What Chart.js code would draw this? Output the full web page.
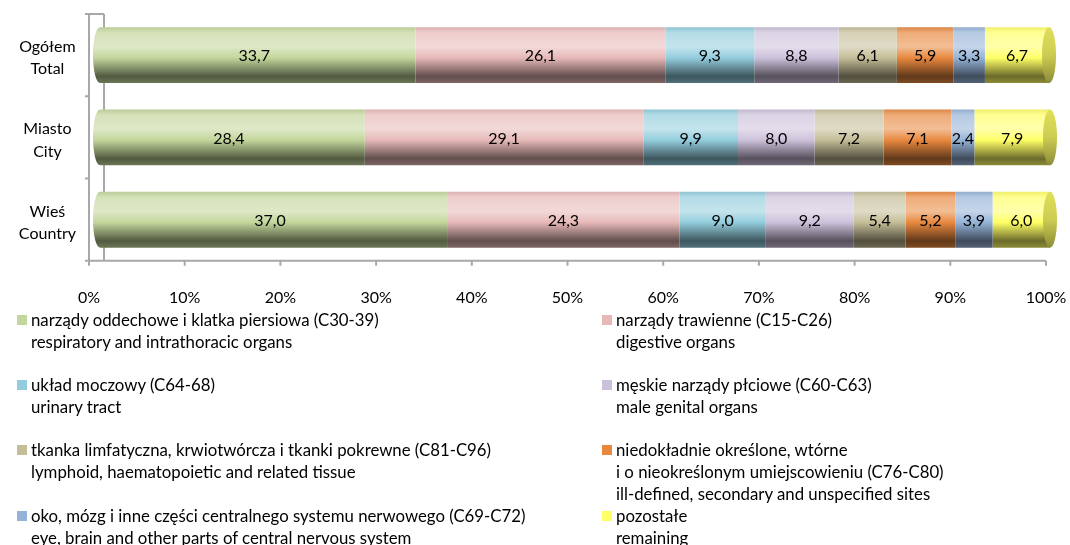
<!DOCTYPE html>
<html lang="pl">
<head>
<meta charset="utf-8">
<title>Zgony na nowotwory złośliwe według umiejscowienia</title>
<script src="https://cdn.jsdelivr.net/npm/chart.js@4.4.1/dist/chart.umd.min.js"></script>
<style>
    html, body { margin: 0; padding: 0; background: #fff; }
    #wrap { position: relative; width: 1070px; height: 545px; font-family: Lato, 'Noto Sans', sans-serif; }
    #chart { position: absolute; left: 0; top: 0; }
    .item { position: absolute; font-size: 16.8px; line-height: 22px; color: #000; padding-left: 14px; white-space: nowrap; }
    .item i { position: absolute; left: 0; top: 6px; width: 10px; height: 10px; }
</style>
</head>
<body>
<div id="wrap">
    <canvas id="chart" width="1070" height="545"></canvas>
    <div id="legend"></div>
</div>
<script>
// ── Data (% of deaths by site) ──
const categories = [['Ogółem', 'Total'], ['Miasto', 'City'], ['Wieś', 'Country']];
const respiratory = [33.7, 28.4, 37.0];
const digestive   = [26.1, 29.1, 24.3];
const urinary     = [9.3, 9.9, 9.0];
const genital     = [8.8, 8.0, 9.2];
const lymphoid    = [6.1, 7.2, 5.4];
const illDefined  = [5.9, 7.1, 5.2];
const nervous     = [3.3, 2.4, 3.9];
const remaining   = [6.7, 7.9, 6.0];

const seriesLabels = [
    ['narządy oddechowe i klatka piersiowa (C30-39)', 'respiratory and intrathoracic organs'],
    ['narządy trawienne (C15-C26)', 'digestive organs'],
    ['układ moczowy (C64-68)', 'urinary tract'],
    ['męskie narządy płciowe (C60-C63)', 'male genital organs'],
    ['tkanka limfatyczna, krwiotwórcza i tkanki pokrewne (C81-C96)', 'lymphoid, haematopoietic and related tissue'],
    ['niedokładnie określone, wtórne', 'i o nieokreślonym umiejscowieniu (C76-C80)', 'ill-defined, secondary and unspecified sites'],
    ['oko, mózg i inne części centralnego systemu nerwowego (C69-C72)', 'eye, brain and other parts of central nervous system'],
    ['pozostałe', 'remaining']
];
const seriesValues = [respiratory, digestive, urinary, genital, lymphoid, illDefined, nervous, remaining];
const seriesColors = ['#c3d69b', '#e6b9b8', '#93cddd', '#ccc1da', '#c4bd97', '#e8883f', '#95b3d7', '#ffff66'];

const BAR_PCT = 0.68;
const FONT = 'Lato, "Noto Sans", sans-serif';

// ── Colour helpers ──
function mix(hex, target, t) {
    const a = parseInt(hex.slice(1), 16);
    const r = (a >> 16) & 255, g = (a >> 8) & 255, b = a & 255;
    const m = (c) => Math.round(c + (target - c) * t);
    return 'rgb(' + m(r) + ',' + m(g) + ',' + m(b) + ')';
}

function barHalf(chart) {
    const area = chart.chartArea;
    return (area.bottom - area.top) / categories.length * BAR_PCT / 2;
}

// vertical gradient that gives each bar its cylinder shading
function cylinderFill(color) {
    return function (ctx) {
        const chart = ctx.chart;
        const yScale = chart.scales.y;
        if (!chart.chartArea || !yScale) return color;
        const c = yScale.getPixelForValue(ctx.dataIndex);
        const h = barHalf(chart);
        const g = chart.ctx.createLinearGradient(0, c - h, 0, c + h);
        g.addColorStop(0, mix(color, 120, 0.12));
        g.addColorStop(0.1, mix(color, 255, 0.3));
        g.addColorStop(0.35, mix(color, 255, 0.45));
        g.addColorStop(0.55, color);
        g.addColorStop(0.88, mix(color, 0, 0.58));
        g.addColorStop(1, mix(color, 0, 0.45));
        return g;
    };
}

// ── 3D wall, floor and tick marks ──
const framePlugin = {
    id: 'frame',
    beforeDatasetsDraw(chart) {
        const { ctx, chartArea: a } = chart;
        const xs = chart.scales.x;
        const leftX = a.left - 4, backX = a.left + 11;
        ctx.save();
        ctx.strokeStyle = '#a8a8a8';
        ctx.lineWidth = 2;
        ctx.beginPath();
        ctx.moveTo(leftX, a.top); ctx.lineTo(leftX, a.bottom + 1);
        ctx.moveTo(backX, a.top); ctx.lineTo(backX, a.bottom);
        ctx.moveTo(leftX, a.top); ctx.lineTo(backX, a.top);
        ctx.moveTo(leftX, a.bottom); ctx.lineTo(xs.getPixelForValue(100) - 4, a.bottom);
        for (let v = 0; v <= 100; v += 10) {
            const x = xs.getPixelForValue(v) - 4;
            ctx.moveTo(x, a.bottom); ctx.lineTo(x, a.bottom + 5);
        }
        const step = (a.bottom - a.top) / categories.length;
        for (let k = 0; k <= categories.length; k++) {
            const y = a.top + k * step;
            ctx.moveTo(leftX - 4, y); ctx.lineTo(leftX, y);
        }
        ctx.stroke();
        ctx.restore();
    }
};

// ── Rounded start, end caps and value labels ──
const cylinderPlugin = {
    id: 'cylinder',
    beforeDatasetDraw(chart, args) {
        if (args.index !== 0) return;
        const { ctx, width, height } = chart;
        const rx = 7;
        ctx.save();
        ctx.beginPath();
        const bars = args.meta.data;
        const x0 = bars[0].base;
        ctx.rect(x0 + rx, 0, width, height);
        bars.forEach((bar) => {
            ctx.moveTo(x0 + 2 * rx, bar.y);
            ctx.ellipse(x0 + rx, bar.y, rx, bar.height / 2, 0, 0, Math.PI * 2);
        });
        ctx.clip();
    },
    afterDatasetDraw(chart, args) {
        if (args.index === 0) chart.ctx.restore();
    },
    afterDatasetsDraw(chart) {
        const ctx = chart.ctx;
        const last = chart.data.datasets.length - 1;
        const capColor = seriesColors[last];

        chart.getDatasetMeta(last).data.forEach((bar) => {
            const ry = bar.height / 2;
            const g = ctx.createLinearGradient(0, bar.y - ry, 0, bar.y + ry);
            g.addColorStop(0, mix(capColor, 0, 0.12));
            g.addColorStop(0.5, mix(capColor, 0, 0.2));
            g.addColorStop(1, mix(capColor, 0, 0.45));
            ctx.save();
            ctx.beginPath();
            ctx.ellipse(bar.x, bar.y, 7, ry, 0, 0, Math.PI * 2);
            ctx.fillStyle = g;
            ctx.fill();
            ctx.restore();
        });

        ctx.save();
        ctx.font = '16px ' + FONT;
        ctx.fillStyle = '#000';
        ctx.textAlign = 'center';
        ctx.textBaseline = 'middle';
        chart.data.datasets.forEach((ds, i) => {
            chart.getDatasetMeta(i).data.forEach((bar, j) => {
                const label = ds.data[j].toFixed(1).replace('.', ',');
                ctx.fillText(label, (bar.base + bar.x) / 2, bar.y + 1);
            });
        });
        ctx.restore();
    }
};

new Chart(document.getElementById('chart'), {
    type: 'bar',
    data: {
        labels: categories,
        datasets: seriesValues.map((values, i) => ({
            label: seriesLabels[i].join(' '),
            data: values,
            backgroundColor: cylinderFill(seriesColors[i]),
            borderWidth: 0,
            barPercentage: BAR_PCT,
            categoryPercentage: 1
        }))
    },
    options: {
        indexAxis: 'y',
        responsive: false,
        animation: false,
        events: [],
        layout: { padding: { left: 0, right: 20, top: 14, bottom: 211 } },
        plugins: { legend: { display: false }, tooltip: { enabled: false } },
        scales: {
            x: {
                stacked: true,
                min: 0,
                max: 100,
                grid: { display: false, drawTicks: false },
                border: { display: false },
                ticks: {
                    stepSize: 10,
                    padding: 27,
                    labelOffset: -4,
                    color: '#000',
                    font: { family: FONT, size: 16 },
                    callback: (v) => v + '%'
                },
                afterFit(scale) { scale.paddingLeft = 0; scale.paddingRight = 0; }
            },
            y: {
                stacked: true,
                grid: { display: false, drawTicks: false },
                border: { display: false },
                ticks: {
                    crossAlign: 'center',
                    padding: 17,
                    labelOffset: 3,
                    color: '#000',
                    font: { family: FONT, size: 16, lineHeight: 1.4 }
                },
                afterFit(scale) { scale.width = 93; scale.paddingTop = 0; scale.paddingBottom = 0; }
            }
        }
    },
    plugins: [framePlugin, cylinderPlugin]
});

// ── Legend (two columns, multi-line entries) ──
const legend = document.getElementById('legend');
seriesLabels.forEach((lines, i) => {
    const item = document.createElement('div');
    item.className = 'item';
    item.style.left = (i % 2 === 0 ? 17 : 602) + 'px';
    item.style.top = Math.round(309 + 65.2 * Math.floor(i / 2)) + 'px';
    item.innerHTML = '<i style="background:' + seriesColors[i] + '"></i>' + lines.join('<br>');
    legend.appendChild(item);
});
</script>
</body>
</html>
